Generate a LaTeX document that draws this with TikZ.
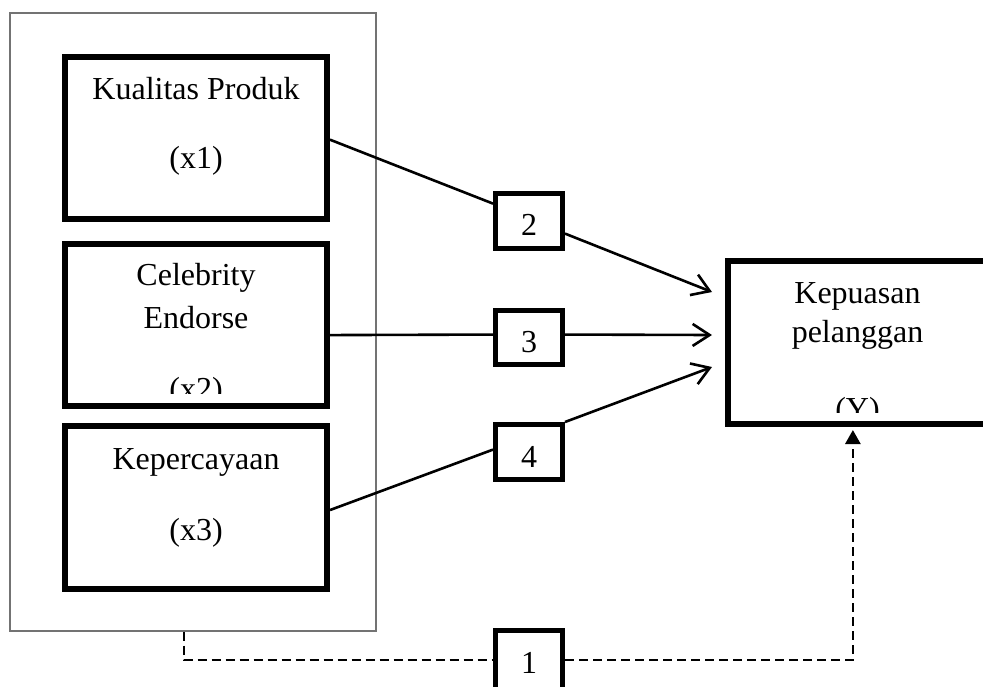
\documentclass[tikz,border=0pt]{standalone}
\usepackage{fontspec}
\setmainfont{Liberation Serif}
\usetikzlibrary{arrows.meta,calc}
\begin{document}
\begin{tikzpicture}[x=1pt,y=-1pt,
  bigbox/.style={draw, line width=6pt, inner sep=0pt},
  numbox/.style={draw, line width=5pt, inner sep=0pt, minimum width=67pt},
  lbl/.style={anchor=base, inner sep=0pt, font=\fontsize{32}{38}\selectfont},
  plain/.style={line width=2.6pt},
  conn/.style={line width=2.6pt, -{Straight Barb[length=17pt,width=22pt,line width=2.6pt]}},
  dashline/.style={line width=2.6pt, dash pattern=on 9pt off 5pt},
]
\clip (0,0) rectangle (983,686);
\fill[white] (0,0) rectangle (983,686);
% outer frame
\node[draw=black!55, line width=1.4pt, minimum width=366pt, minimum height=618pt, inner sep=0pt] (outer) at (193,322) {};
% variable boxes
\node[bigbox, minimum width=262pt, minimum height=162pt] (x1) at (196,138) {};
\node[bigbox, minimum width=262pt, minimum height=162pt] (x2) at (196,325) {};
\node[bigbox, minimum width=262pt, minimum height=163pt] (x3) at (196,507.5) {};
\node[bigbox, minimum width=272pt, minimum height=163pt] (Y) at (864,342.5) {};
% number boxes
\node[numbox, minimum height=55pt] (b2) at (529,221) {};
\node[numbox, minimum height=54pt] (b3) at (529,337.5) {};
\node[numbox, minimum height=55pt] (b4) at (529,452) {};
\node[numbox, minimum height=60pt] (b1) at (529,660) {};
% texts
\node[lbl] (t1a) at (196,99) {Kualitas Produk};
\node[lbl] (t1b) at (196,168) {(x1)};
\node[lbl] (t2a) at (196,285) {Celebrity};
\node[lbl] (t2b) at (196,328) {Endorse};
\begin{scope}
\clip (64.5,243.5) rectangle (327.5,393);
\node[lbl] (t2c) at (196,399) {(x2)};
\end{scope}
\node[lbl] (t3a) at (196,469) {Kepercayaan};
\node[lbl] (t3b) at (196,540) {(x3)};
\node[lbl] (tya) at (857.5,303) {Kepuasan};
\node[lbl] (tyb) at (857.5,342) {pelanggan};
\begin{scope}
\clip (727.5,260.5) rectangle (1000,412);
\node[lbl] (tyc) at (857.5,419) {(Y)};
\end{scope}
\node[lbl] (n2) at (529,235) {2};
\node[lbl] (n3) at (529,352) {3};
\node[lbl] (n4) at (529,467) {4};
\node[lbl] (n1) at (529,673) {1};
% arrow tips (free ends)
\coordinate (tip2) at (712,292);
\coordinate (tip3) at (712,335);
\coordinate (tip4) at (712,367);
% connectors
\draw[plain] ($(x1.north east)!0.51!(x1.south east)$) -- ($(b2.north west)!0.21!(b2.south west)$);
\draw[conn] ($(b2.north east)!0.71!(b2.south east)$) -- (tip2);
\draw[plain] ($(x2.north east)!0.56!(x2.south east)$) -- ($(b3.north west)!0.45!(b3.south west)$);
\draw[conn] ($(b3.north east)!0.45!(b3.south east)$) -- (tip3);
\draw[plain] ($(x3.north east)!0.515!(x3.south east)$) -- ($(b4.north west)!0.46!(b4.south west)$);
\draw[conn] (b4.north east) -- (tip4);
% dashed path
\coordinate (d0) at ($(outer.south west)!0.475!(outer.south east)$);
\coordinate (yin) at ($(Y.south west)!0.46!(Y.south east)$);
\draw[dashline] (d0) |- (b1.west);
\draw[dashline, -{Triangle[length=14pt,width=15pt]}, shorten >=3pt] (b1.east) -| (yin);
\end{tikzpicture}
\end{document}
